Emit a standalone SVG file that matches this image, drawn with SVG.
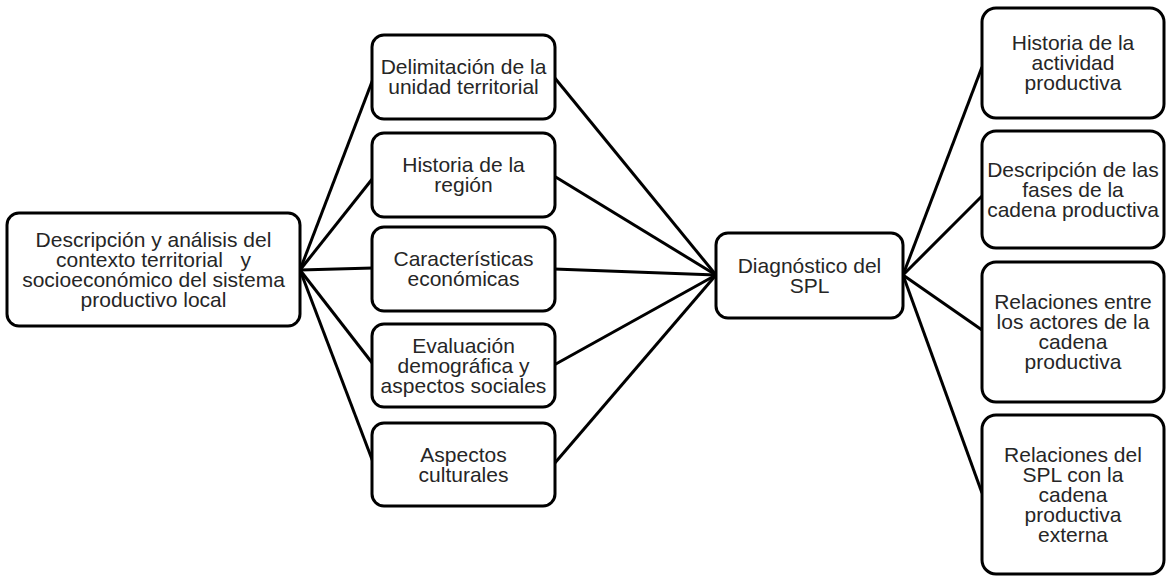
<svg xmlns="http://www.w3.org/2000/svg" width="1166" height="576" viewBox="0 0 1166 576">
<style>
.box{fill:#fff;stroke:#000;stroke-width:3}
.t{font-family:"Liberation Sans",Arial,sans-serif;font-size:21px;fill:#262626;text-anchor:middle}
.c{stroke:#000;stroke-width:3;fill:none}
</style>
<rect width="1166" height="576" fill="#fff"/>
<g id="connectors">
<line class="c" x1="300" y1="270" x2="373" y2="79"/>
<line class="c" x1="300" y1="270" x2="373" y2="178"/>
<line class="c" x1="300" y1="270" x2="373" y2="268"/>
<line class="c" x1="300" y1="270" x2="373" y2="364"/>
<line class="c" x1="300" y1="270" x2="373" y2="462"/>
<line class="c" x1="554" y1="77" x2="716" y2="275"/>
<line class="c" x1="554" y1="176" x2="716" y2="275"/>
<line class="c" x1="554" y1="269" x2="716" y2="275"/>
<line class="c" x1="554" y1="365" x2="716" y2="275"/>
<line class="c" x1="554" y1="464" x2="716" y2="275"/>
<line class="c" x1="903" y1="275" x2="982" y2="67"/>
<line class="c" x1="903" y1="275" x2="982" y2="196"/>
<line class="c" x1="903" y1="275" x2="982" y2="330"/>
<line class="c" x1="903" y1="275" x2="982" y2="493"/>
</g>
<g id="n-contexto">
<rect class="box" x="7" y="213" width="293" height="113" rx="12"/>
<text class="t" x="153.5" y="247">Descripción y análisis del</text>
<text class="t" x="153.5" y="267">contexto territorial &#160; y</text>
<text class="t" x="153.5" y="287">socioeconómico del sistema</text>
<text class="t" x="153.5" y="307">productivo local</text>
</g>
<g id="n-delimitacion">
<rect class="box" x="372" y="35" width="183" height="84" rx="12"/>
<text class="t" x="463.5" y="74">Delimitación de la</text>
<text class="t" x="463.5" y="94">unidad territorial</text>
</g>
<g id="n-historia-region">
<rect class="box" x="372" y="133" width="183" height="84" rx="12"/>
<text class="t" x="463.5" y="172">Historia de la</text>
<text class="t" x="463.5" y="192">región</text>
</g>
<g id="n-economicas">
<rect class="box" x="372" y="227" width="183" height="84" rx="12"/>
<text class="t" x="463.5" y="266">Características</text>
<text class="t" x="463.5" y="286">económicas</text>
</g>
<g id="n-demografica">
<rect class="box" x="372" y="324" width="183" height="83" rx="12"/>
<text class="t" x="463.5" y="352.5">Evaluación</text>
<text class="t" x="463.5" y="372.5">demográfica y</text>
<text class="t" x="463.5" y="392.5">aspectos sociales</text>
</g>
<g id="n-culturales">
<rect class="box" x="372" y="423" width="183" height="83" rx="12"/>
<text class="t" x="463.5" y="461.5">Aspectos</text>
<text class="t" x="463.5" y="481.5">culturales</text>
</g>
<g id="n-diagnostico">
<rect class="box" x="716" y="233" width="187" height="85" rx="12"/>
<text class="t" x="809.5" y="272.5">Diagnóstico del</text>
<text class="t" x="809.5" y="292.5">SPL</text>
</g>
<g id="n-historia-actividad">
<rect class="box" x="982" y="8" width="182" height="110" rx="14"/>
<text class="t" x="1073" y="50">Historia de la</text>
<text class="t" x="1073" y="70">actividad</text>
<text class="t" x="1073" y="90">productiva</text>
</g>
<g id="n-fases">
<rect class="box" x="982" y="131" width="182" height="117" rx="14"/>
<text class="t" x="1073" y="177">Descripción de las</text>
<text class="t" x="1073" y="197">fases de la</text>
<text class="t" x="1073" y="217">cadena productiva</text>
</g>
<g id="n-actores">
<rect class="box" x="982" y="262" width="182" height="140" rx="14"/>
<text class="t" x="1073" y="308.5">Relaciones entre</text>
<text class="t" x="1073" y="328.5">los actores de la</text>
<text class="t" x="1073" y="348.5">cadena</text>
<text class="t" x="1073" y="368.5">productiva</text>
</g>
<g id="n-externa">
<rect class="box" x="982" y="415" width="182" height="159" rx="14"/>
<text class="t" x="1073" y="462">Relaciones del</text>
<text class="t" x="1073" y="482">SPL con la</text>
<text class="t" x="1073" y="502">cadena</text>
<text class="t" x="1073" y="522">productiva</text>
<text class="t" x="1073" y="542">externa</text>
</g>
</svg>
